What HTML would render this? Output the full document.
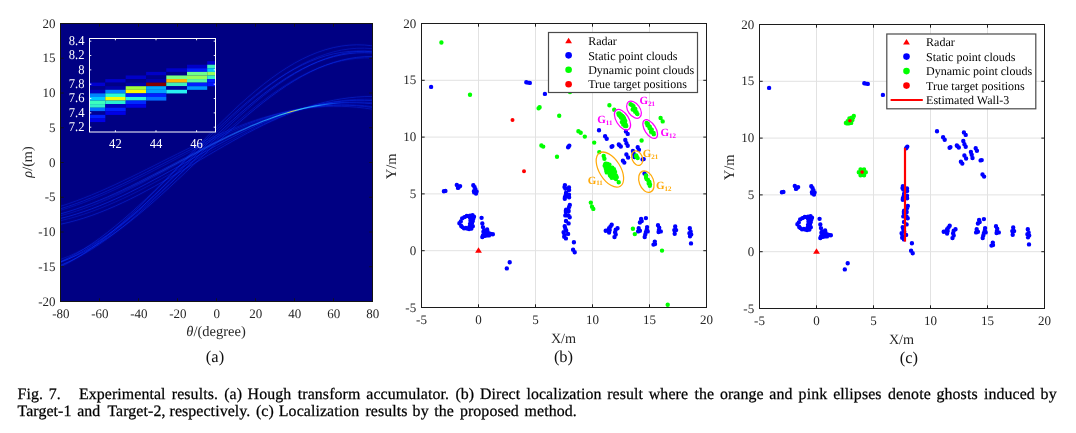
<!DOCTYPE html><html><head><meta charset="utf-8"><title>Fig. 7</title><style>
html,body{margin:0;padding:0;background:#fff;}body{width:1076px;height:433px;overflow:hidden;}
svg{display:block;will-change:transform}text{font-family:"Liberation Serif",serif;fill:#262626;text-rendering:geometricPrecision}
.t{font-size:13.0px}.w{fill:#fff;font-size:13.5px}.al{font-size:14.2px}.sub{font-size:16.5px;fill:#111}.cap{font-size:15.9px;fill:#000;letter-spacing:0.09px;stroke:#000;stroke-width:0.25px}.lg{font-size:12px;fill:#000}
.gp{font-weight:bold;font-size:11px;fill:#ff00ff}.go{font-weight:bold;font-size:11px;fill:#ffaa0a}.s{font-size:6.9px}
</style></head><body>
<svg width="1076" height="433" viewBox="0 0 1076 433">
<g id="pa">
<rect x="60" y="23" width="313" height="279" fill="#000083"/>
<clipPath id="ca"><rect x="60.5" y="23.5" width="312" height="278"/></clipPath>
<g clip-path="url(#ca)" fill="none" stroke-linecap="round">
<path d="M60.5 224.25 L68.3 222.47 L76.1 220.41 L83.9 218.07 L91.7 215.45 L99.5 212.57 L107.3 209.46 L115.1 206.11 L122.9 202.55 L130.7 198.8 L138.5 194.86 L146.3 190.77 L154.1 186.55 L161.9 182.2 L169.7 177.76 L177.5 173.25 L185.3 168.68 L193.1 164.09 L200.9 159.48 L208.7 154.89 L216.5 150.34 L224.3 145.84 L232.1 141.43 L239.9 137.12 L247.7 132.94 L255.5 128.89 L263.3 125.01 L271.1 121.32 L278.9 117.82 L286.7 114.55 L294.5 111.5 L302.3 108.71 L310.1 106.17 L317.9 103.91 L325.7 101.94 L333.5 100.26 L341.3 98.89 L349.1 97.82 L356.9 97.07 L364.7 96.64 L372.5 96.53" stroke="#0c38ff" stroke-opacity="0.045" stroke-width="3.2"/>
<path d="M60.5 224.25 L68.3 222.47 L76.1 220.41 L83.9 218.07 L91.7 215.45 L99.5 212.57 L107.3 209.46 L115.1 206.11 L122.9 202.55 L130.7 198.8 L138.5 194.86 L146.3 190.77 L154.1 186.55 L161.9 182.2 L169.7 177.76 L177.5 173.25 L185.3 168.68 L193.1 164.09 L200.9 159.48 L208.7 154.89 L216.5 150.34 L224.3 145.84 L232.1 141.43 L239.9 137.12 L247.7 132.94 L255.5 128.89 L263.3 125.01 L271.1 121.32 L278.9 117.82 L286.7 114.55 L294.5 111.5 L302.3 108.71 L310.1 106.17 L317.9 103.91 L325.7 101.94 L333.5 100.26 L341.3 98.89 L349.1 97.82 L356.9 97.07 L364.7 96.64 L372.5 96.53" stroke="#0c38ff" stroke-opacity="0.46" stroke-width="0.85"/>
<path d="M60.5 220.68 L68.3 218.78 L76.1 216.62 L83.9 214.19 L91.7 211.51 L99.5 208.59 L107.3 205.45 L115.1 202.09 L122.9 198.55 L130.7 194.82 L138.5 190.95 L146.3 186.93 L154.1 182.79 L161.9 178.55 L169.7 174.24 L177.5 169.87 L185.3 165.46 L193.1 161.04 L200.9 156.63 L208.7 152.24 L216.5 147.9 L224.3 143.64 L232.1 139.47 L239.9 135.41 L247.7 131.48 L255.5 127.7 L263.3 124.09 L271.1 120.67 L278.9 117.46 L286.7 114.46 L294.5 111.69 L302.3 109.18 L310.1 106.92 L317.9 104.94 L325.7 103.23 L333.5 101.82 L341.3 100.69 L349.1 99.87 L356.9 99.36 L364.7 99.15 L372.5 99.26" stroke="#0c38ff" stroke-opacity="0.045" stroke-width="3.2"/>
<path d="M60.5 220.68 L68.3 218.78 L76.1 216.62 L83.9 214.19 L91.7 211.51 L99.5 208.59 L107.3 205.45 L115.1 202.09 L122.9 198.55 L130.7 194.82 L138.5 190.95 L146.3 186.93 L154.1 182.79 L161.9 178.55 L169.7 174.24 L177.5 169.87 L185.3 165.46 L193.1 161.04 L200.9 156.63 L208.7 152.24 L216.5 147.9 L224.3 143.64 L232.1 139.47 L239.9 135.41 L247.7 131.48 L255.5 127.7 L263.3 124.09 L271.1 120.67 L278.9 117.46 L286.7 114.46 L294.5 111.69 L302.3 109.18 L310.1 106.92 L317.9 104.94 L325.7 103.23 L333.5 101.82 L341.3 100.69 L349.1 99.87 L356.9 99.36 L364.7 99.15 L372.5 99.26" stroke="#0c38ff" stroke-opacity="0.32" stroke-width="0.85"/>
<path d="M60.5 218.47 L68.3 216.44 L76.1 214.15 L83.9 211.6 L91.7 208.82 L99.5 205.81 L107.3 202.59 L115.1 199.17 L122.9 195.58 L130.7 191.82 L138.5 187.92 L146.3 183.9 L154.1 179.77 L161.9 175.56 L169.7 171.28 L177.5 166.97 L185.3 162.63 L193.1 158.29 L200.9 153.97 L208.7 149.69 L216.5 145.47 L224.3 141.34 L232.1 137.31 L239.9 133.4 L247.7 129.64 L255.5 126.03 L263.3 122.61 L271.1 119.37 L278.9 116.35 L286.7 113.55 L294.5 110.99 L302.3 108.68 L310.1 106.64 L317.9 104.86 L325.7 103.37 L333.5 102.16 L341.3 101.25 L349.1 100.64 L356.9 100.33 L364.7 100.32 L372.5 100.61" stroke="#0c38ff" stroke-opacity="0.045" stroke-width="3.2"/>
<path d="M60.5 218.47 L68.3 216.44 L76.1 214.15 L83.9 211.6 L91.7 208.82 L99.5 205.81 L107.3 202.59 L115.1 199.17 L122.9 195.58 L130.7 191.82 L138.5 187.92 L146.3 183.9 L154.1 179.77 L161.9 175.56 L169.7 171.28 L177.5 166.97 L185.3 162.63 L193.1 158.29 L200.9 153.97 L208.7 149.69 L216.5 145.47 L224.3 141.34 L232.1 137.31 L239.9 133.4 L247.7 129.64 L255.5 126.03 L263.3 122.61 L271.1 119.37 L278.9 116.35 L286.7 113.55 L294.5 110.99 L302.3 108.68 L310.1 106.64 L317.9 104.86 L325.7 103.37 L333.5 102.16 L341.3 101.25 L349.1 100.64 L356.9 100.33 L364.7 100.32 L372.5 100.61" stroke="#0c38ff" stroke-opacity="0.55" stroke-width="0.85"/>
<path d="M60.5 215.72 L68.3 213.58 L76.1 211.19 L83.9 208.57 L91.7 205.72 L99.5 202.66 L107.3 199.4 L115.1 195.97 L122.9 192.37 L130.7 188.63 L138.5 184.76 L146.3 180.78 L154.1 176.71 L161.9 172.58 L169.7 168.39 L177.5 164.17 L185.3 159.95 L193.1 155.74 L200.9 151.56 L208.7 147.44 L216.5 143.39 L224.3 139.43 L232.1 135.58 L239.9 131.87 L247.7 128.3 L255.5 124.91 L263.3 121.69 L271.1 118.67 L278.9 115.87 L286.7 113.29 L294.5 110.96 L302.3 108.87 L310.1 107.05 L317.9 105.5 L325.7 104.22 L333.5 103.23 L341.3 102.52 L349.1 102.11 L356.9 102 L364.7 102.17 L372.5 102.65" stroke="#0c38ff" stroke-opacity="0.045" stroke-width="3.2"/>
<path d="M60.5 215.72 L68.3 213.58 L76.1 211.19 L83.9 208.57 L91.7 205.72 L99.5 202.66 L107.3 199.4 L115.1 195.97 L122.9 192.37 L130.7 188.63 L138.5 184.76 L146.3 180.78 L154.1 176.71 L161.9 172.58 L169.7 168.39 L177.5 164.17 L185.3 159.95 L193.1 155.74 L200.9 151.56 L208.7 147.44 L216.5 143.39 L224.3 139.43 L232.1 135.58 L239.9 131.87 L247.7 128.3 L255.5 124.91 L263.3 121.69 L271.1 118.67 L278.9 115.87 L286.7 113.29 L294.5 110.96 L302.3 108.87 L310.1 107.05 L317.9 105.5 L325.7 104.22 L333.5 103.23 L341.3 102.52 L349.1 102.11 L356.9 102 L364.7 102.17 L372.5 102.65" stroke="#0c38ff" stroke-opacity="0.34" stroke-width="0.85"/>
<path d="M60.5 213.85 L68.3 211.59 L76.1 209.09 L83.9 206.37 L91.7 203.43 L99.5 200.29 L107.3 196.97 L115.1 193.48 L122.9 189.84 L130.7 186.07 L138.5 182.18 L146.3 178.2 L154.1 174.13 L161.9 170.02 L169.7 165.86 L177.5 161.69 L185.3 157.53 L193.1 153.38 L200.9 149.29 L208.7 145.25 L216.5 141.3 L224.3 137.46 L232.1 133.73 L239.9 130.15 L247.7 126.72 L255.5 123.47 L263.3 120.41 L271.1 117.55 L278.9 114.91 L286.7 112.51 L294.5 110.34 L302.3 108.44 L310.1 106.79 L317.9 105.42 L325.7 104.32 L333.5 103.51 L341.3 102.98 L349.1 102.75 L356.9 102.81 L364.7 103.15 L372.5 103.79" stroke="#0c38ff" stroke-opacity="0.045" stroke-width="3.2"/>
<path d="M60.5 213.85 L68.3 211.59 L76.1 209.09 L83.9 206.37 L91.7 203.43 L99.5 200.29 L107.3 196.97 L115.1 193.48 L122.9 189.84 L130.7 186.07 L138.5 182.18 L146.3 178.2 L154.1 174.13 L161.9 170.02 L169.7 165.86 L177.5 161.69 L185.3 157.53 L193.1 153.38 L200.9 149.29 L208.7 145.25 L216.5 141.3 L224.3 137.46 L232.1 133.73 L239.9 130.15 L247.7 126.72 L255.5 123.47 L263.3 120.41 L271.1 117.55 L278.9 114.91 L286.7 112.51 L294.5 110.34 L302.3 108.44 L310.1 106.79 L317.9 105.42 L325.7 104.32 L333.5 103.51 L341.3 102.98 L349.1 102.75 L356.9 102.81 L364.7 103.15 L372.5 103.79" stroke="#0c38ff" stroke-opacity="0.5" stroke-width="0.85"/>
<path d="M60.5 210.28 L68.3 207.9 L76.1 205.3 L83.9 202.49 L91.7 199.49 L99.5 196.31 L107.3 192.96 L115.1 189.47 L122.9 185.84 L130.7 182.1 L138.5 178.26 L146.3 174.35 L154.1 170.38 L161.9 166.37 L169.7 162.34 L177.5 158.31 L185.3 154.31 L193.1 150.34 L200.9 146.43 L208.7 142.6 L216.5 138.87 L224.3 135.25 L232.1 131.77 L239.9 128.43 L247.7 125.26 L255.5 122.28 L263.3 119.49 L271.1 116.9 L278.9 114.54 L286.7 112.42 L294.5 110.54 L302.3 108.91 L310.1 107.54 L317.9 106.44 L325.7 105.61 L333.5 105.06 L341.3 104.79 L349.1 104.8 L356.9 105.1 L364.7 105.67 L372.5 106.52" stroke="#0c38ff" stroke-opacity="0.045" stroke-width="3.2"/>
<path d="M60.5 210.28 L68.3 207.9 L76.1 205.3 L83.9 202.49 L91.7 199.49 L99.5 196.31 L107.3 192.96 L115.1 189.47 L122.9 185.84 L130.7 182.1 L138.5 178.26 L146.3 174.35 L154.1 170.38 L161.9 166.37 L169.7 162.34 L177.5 158.31 L185.3 154.31 L193.1 150.34 L200.9 146.43 L208.7 142.6 L216.5 138.87 L224.3 135.25 L232.1 131.77 L239.9 128.43 L247.7 125.26 L255.5 122.28 L263.3 119.49 L271.1 116.9 L278.9 114.54 L286.7 112.42 L294.5 110.54 L302.3 108.91 L310.1 107.54 L317.9 106.44 L325.7 105.61 L333.5 105.06 L341.3 104.79 L349.1 104.8 L356.9 105.1 L364.7 105.67 L372.5 106.52" stroke="#0c38ff" stroke-opacity="0.32" stroke-width="0.85"/>
<path d="M60.5 208.74 L68.3 206.27 L76.1 203.57 L83.9 200.68 L91.7 197.6 L99.5 194.36 L107.3 190.95 L115.1 187.41 L122.9 183.75 L130.7 179.98 L138.5 176.13 L146.3 172.21 L154.1 168.24 L161.9 164.25 L169.7 160.24 L177.5 156.25 L185.3 152.29 L193.1 148.38 L200.9 144.54 L208.7 140.78 L216.5 137.13 L224.3 133.61 L232.1 130.22 L239.9 126.99 L247.7 123.94 L255.5 121.07 L263.3 118.41 L271.1 115.96 L278.9 113.73 L286.7 111.75 L294.5 110.01 L302.3 108.53 L310.1 107.31 L317.9 106.35 L325.7 105.68 L333.5 105.28 L341.3 105.15 L349.1 105.31 L356.9 105.75 L364.7 106.46 L372.5 107.45" stroke="#0c38ff" stroke-opacity="0.045" stroke-width="3.2"/>
<path d="M60.5 208.74 L68.3 206.27 L76.1 203.57 L83.9 200.68 L91.7 197.6 L99.5 194.36 L107.3 190.95 L115.1 187.41 L122.9 183.75 L130.7 179.98 L138.5 176.13 L146.3 172.21 L154.1 168.24 L161.9 164.25 L169.7 160.24 L177.5 156.25 L185.3 152.29 L193.1 148.38 L200.9 144.54 L208.7 140.78 L216.5 137.13 L224.3 133.61 L232.1 130.22 L239.9 126.99 L247.7 123.94 L255.5 121.07 L263.3 118.41 L271.1 115.96 L278.9 113.73 L286.7 111.75 L294.5 110.01 L302.3 108.53 L310.1 107.31 L317.9 106.35 L325.7 105.68 L333.5 105.28 L341.3 105.15 L349.1 105.31 L356.9 105.75 L364.7 106.46 L372.5 107.45" stroke="#0c38ff" stroke-opacity="0.44" stroke-width="0.85"/>
<path d="M60.5 206.32 L68.3 203.75 L76.1 200.99 L83.9 198.03 L91.7 194.91 L99.5 191.62 L107.3 188.19 L115.1 184.64 L122.9 180.98 L130.7 177.23 L138.5 173.41 L146.3 169.54 L154.1 165.63 L161.9 161.7 L169.7 157.78 L177.5 153.88 L185.3 150.03 L193.1 146.23 L200.9 142.52 L208.7 138.9 L216.5 135.4 L224.3 132.02 L232.1 128.8 L239.9 125.74 L247.7 122.86 L255.5 120.18 L263.3 117.7 L271.1 115.43 L278.9 113.4 L286.7 111.61 L294.5 110.06 L302.3 108.77 L310.1 107.74 L317.9 106.98 L325.7 106.49 L333.5 106.27 L341.3 106.33 L349.1 106.66 L356.9 107.26 L364.7 108.13 L372.5 109.27" stroke="#0c38ff" stroke-opacity="0.045" stroke-width="3.2"/>
<path d="M60.5 206.32 L68.3 203.75 L76.1 200.99 L83.9 198.03 L91.7 194.91 L99.5 191.62 L107.3 188.19 L115.1 184.64 L122.9 180.98 L130.7 177.23 L138.5 173.41 L146.3 169.54 L154.1 165.63 L161.9 161.7 L169.7 157.78 L177.5 153.88 L185.3 150.03 L193.1 146.23 L200.9 142.52 L208.7 138.9 L216.5 135.4 L224.3 132.02 L232.1 128.8 L239.9 125.74 L247.7 122.86 L255.5 120.18 L263.3 117.7 L271.1 115.43 L278.9 113.4 L286.7 111.61 L294.5 110.06 L302.3 108.77 L310.1 107.74 L317.9 106.98 L325.7 106.49 L333.5 106.27 L341.3 106.33 L349.1 106.66 L356.9 107.26 L364.7 108.13 L372.5 109.27" stroke="#0c38ff" stroke-opacity="0.38" stroke-width="0.85"/>
<path d="M60.5 261.79 L68.3 258.95 L76.1 255.63 L83.9 251.87 L91.7 247.67 L99.5 243.05 L107.3 238.05 L115.1 232.67 L122.9 226.95 L130.7 220.92 L138.5 214.6 L146.3 208.03 L154.1 201.24 L161.9 194.26 L169.7 187.12 L177.5 179.87 L185.3 172.53 L193.1 165.14 L200.9 157.74 L208.7 150.36 L216.5 143.04 L224.3 135.82 L232.1 128.72 L239.9 121.79 L247.7 115.06 L255.5 108.56 L263.3 102.32 L271.1 96.38 L278.9 90.75 L286.7 85.48 L294.5 80.58 L302.3 76.08 L310.1 72.01 L317.9 68.37 L325.7 65.19 L333.5 62.49 L341.3 60.27 L349.1 58.55 L356.9 57.34 L364.7 56.64 L372.5 56.45" stroke="#0c38ff" stroke-opacity="0.045" stroke-width="3.2"/>
<path d="M60.5 261.79 L68.3 258.95 L76.1 255.63 L83.9 251.87 L91.7 247.67 L99.5 243.05 L107.3 238.05 L115.1 232.67 L122.9 226.95 L130.7 220.92 L138.5 214.6 L146.3 208.03 L154.1 201.24 L161.9 194.26 L169.7 187.12 L177.5 179.87 L185.3 172.53 L193.1 165.14 L200.9 157.74 L208.7 150.36 L216.5 143.04 L224.3 135.82 L232.1 128.72 L239.9 121.79 L247.7 115.06 L255.5 108.56 L263.3 102.32 L271.1 96.38 L278.9 90.75 L286.7 85.48 L294.5 80.58 L302.3 76.08 L310.1 72.01 L317.9 68.37 L325.7 65.19 L333.5 62.49 L341.3 60.27 L349.1 58.55 L356.9 57.34 L364.7 56.64 L372.5 56.45" stroke="#0c38ff" stroke-opacity="0.5" stroke-width="0.85"/>
<path d="M60.5 259.4 L68.3 256.4 L76.1 252.95 L83.9 249.05 L91.7 244.73 L99.5 240.01 L107.3 234.92 L115.1 229.47 L122.9 223.69 L130.7 217.62 L138.5 211.28 L146.3 204.7 L154.1 197.91 L161.9 190.95 L169.7 183.86 L177.5 176.66 L185.3 169.39 L193.1 162.08 L200.9 154.78 L208.7 147.52 L216.5 140.33 L224.3 133.25 L232.1 126.31 L239.9 119.54 L247.7 112.99 L255.5 106.68 L263.3 100.64 L271.1 94.9 L278.9 89.49 L286.7 84.43 L294.5 79.76 L302.3 75.49 L310.1 71.64 L317.9 68.23 L325.7 65.29 L333.5 62.82 L341.3 60.83 L349.1 59.34 L356.9 58.35 L364.7 57.87 L372.5 57.9" stroke="#0c38ff" stroke-opacity="0.045" stroke-width="3.2"/>
<path d="M60.5 259.4 L68.3 256.4 L76.1 252.95 L83.9 249.05 L91.7 244.73 L99.5 240.01 L107.3 234.92 L115.1 229.47 L122.9 223.69 L130.7 217.62 L138.5 211.28 L146.3 204.7 L154.1 197.91 L161.9 190.95 L169.7 183.86 L177.5 176.66 L185.3 169.39 L193.1 162.08 L200.9 154.78 L208.7 147.52 L216.5 140.33 L224.3 133.25 L232.1 126.31 L239.9 119.54 L247.7 112.99 L255.5 106.68 L263.3 100.64 L271.1 94.9 L278.9 89.49 L286.7 84.43 L294.5 79.76 L302.3 75.49 L310.1 71.64 L317.9 68.23 L325.7 65.29 L333.5 62.82 L341.3 60.83 L349.1 59.34 L356.9 58.35 L364.7 57.87 L372.5 57.9" stroke="#0c38ff" stroke-opacity="0.34" stroke-width="0.85"/>
<path d="M60.5 265.18 L68.3 261.92 L76.1 258.17 L83.9 253.95 L91.7 249.29 L99.5 244.2 L107.3 238.72 L115.1 232.87 L122.9 226.67 L130.7 220.16 L138.5 213.37 L146.3 206.33 L154.1 199.08 L161.9 191.65 L169.7 184.08 L177.5 176.4 L185.3 168.66 L193.1 160.88 L200.9 153.12 L208.7 145.4 L216.5 137.76 L224.3 130.24 L232.1 122.88 L239.9 115.71 L247.7 108.77 L255.5 102.1 L263.3 95.71 L271.1 89.66 L278.9 83.95 L286.7 78.63 L294.5 73.72 L302.3 69.24 L310.1 65.22 L317.9 61.67 L325.7 58.61 L333.5 56.05 L341.3 54.02 L349.1 52.51 L356.9 51.54 L364.7 51.11 L372.5 51.23" stroke="#0c38ff" stroke-opacity="0.045" stroke-width="3.2"/>
<path d="M60.5 265.18 L68.3 261.92 L76.1 258.17 L83.9 253.95 L91.7 249.29 L99.5 244.2 L107.3 238.72 L115.1 232.87 L122.9 226.67 L130.7 220.16 L138.5 213.37 L146.3 206.33 L154.1 199.08 L161.9 191.65 L169.7 184.08 L177.5 176.4 L185.3 168.66 L193.1 160.88 L200.9 153.12 L208.7 145.4 L216.5 137.76 L224.3 130.24 L232.1 122.88 L239.9 115.71 L247.7 108.77 L255.5 102.1 L263.3 95.71 L271.1 89.66 L278.9 83.95 L286.7 78.63 L294.5 73.72 L302.3 69.24 L310.1 65.22 L317.9 61.67 L325.7 58.61 L333.5 56.05 L341.3 54.02 L349.1 52.51 L356.9 51.54 L364.7 51.11 L372.5 51.23" stroke="#0c38ff" stroke-opacity="0.44" stroke-width="0.85"/>
<path d="M60.5 262.45 L68.3 259.04 L76.1 255.15 L83.9 250.81 L91.7 246.04 L99.5 240.86 L107.3 235.3 L115.1 229.39 L122.9 223.15 L130.7 216.62 L138.5 209.82 L146.3 202.79 L154.1 195.57 L161.9 188.18 L169.7 180.67 L177.5 173.07 L185.3 165.42 L193.1 157.76 L200.9 150.11 L208.7 142.53 L216.5 135.05 L224.3 127.7 L232.1 120.52 L239.9 113.54 L247.7 106.8 L255.5 100.33 L263.3 94.17 L271.1 88.34 L278.9 82.87 L286.7 77.79 L294.5 73.12 L302.3 68.89 L310.1 65.11 L317.9 61.81 L325.7 58.99 L333.5 56.68 L341.3 54.89 L349.1 53.62 L356.9 52.89 L364.7 52.68 L372.5 53.01" stroke="#0c38ff" stroke-opacity="0.045" stroke-width="3.2"/>
<path d="M60.5 262.45 L68.3 259.04 L76.1 255.15 L83.9 250.81 L91.7 246.04 L99.5 240.86 L107.3 235.3 L115.1 229.39 L122.9 223.15 L130.7 216.62 L138.5 209.82 L146.3 202.79 L154.1 195.57 L161.9 188.18 L169.7 180.67 L177.5 173.07 L185.3 165.42 L193.1 157.76 L200.9 150.11 L208.7 142.53 L216.5 135.05 L224.3 127.7 L232.1 120.52 L239.9 113.54 L247.7 106.8 L255.5 100.33 L263.3 94.17 L271.1 88.34 L278.9 82.87 L286.7 77.79 L294.5 73.12 L302.3 68.89 L310.1 65.11 L317.9 61.81 L325.7 58.99 L333.5 56.68 L341.3 54.89 L349.1 53.62 L356.9 52.89 L364.7 52.68 L372.5 53.01" stroke="#0c38ff" stroke-opacity="0.54" stroke-width="0.85"/>
<path d="M60.5 265.88 L68.3 262.22 L76.1 258.08 L83.9 253.47 L91.7 248.41 L99.5 242.94 L107.3 237.07 L115.1 230.84 L122.9 224.28 L130.7 217.42 L138.5 210.29 L146.3 202.93 L154.1 195.37 L161.9 187.65 L169.7 179.81 L177.5 171.88 L185.3 163.91 L193.1 155.93 L200.9 147.98 L208.7 140.1 L216.5 132.34 L224.3 124.72 L232.1 117.28 L239.9 110.06 L247.7 103.1 L255.5 96.43 L263.3 90.08 L271.1 84.09 L278.9 78.47 L286.7 73.27 L294.5 68.5 L302.3 64.18 L310.1 60.35 L317.9 57.01 L325.7 54.19 L333.5 51.9 L341.3 50.14 L349.1 48.94 L356.9 48.28 L364.7 48.18 L372.5 48.64" stroke="#0c38ff" stroke-opacity="0.045" stroke-width="3.2"/>
<path d="M60.5 265.88 L68.3 262.22 L76.1 258.08 L83.9 253.47 L91.7 248.41 L99.5 242.94 L107.3 237.07 L115.1 230.84 L122.9 224.28 L130.7 217.42 L138.5 210.29 L146.3 202.93 L154.1 195.37 L161.9 187.65 L169.7 179.81 L177.5 171.88 L185.3 163.91 L193.1 155.93 L200.9 147.98 L208.7 140.1 L216.5 132.34 L224.3 124.72 L232.1 117.28 L239.9 110.06 L247.7 103.1 L255.5 96.43 L263.3 90.08 L271.1 84.09 L278.9 78.47 L286.7 73.27 L294.5 68.5 L302.3 64.18 L310.1 60.35 L317.9 57.01 L325.7 54.19 L333.5 51.9 L341.3 50.14 L349.1 48.94 L356.9 48.28 L364.7 48.18 L372.5 48.64" stroke="#0c38ff" stroke-opacity="0.36" stroke-width="0.85"/>
<path d="M60.5 261.74 L68.3 257.96 L76.1 253.71 L83.9 249.02 L91.7 243.91 L99.5 238.4 L107.3 232.52 L115.1 226.3 L122.9 219.77 L130.7 212.96 L138.5 205.91 L146.3 198.64 L154.1 191.2 L161.9 183.62 L169.7 175.93 L177.5 168.18 L185.3 160.4 L193.1 152.63 L200.9 144.91 L208.7 137.28 L216.5 129.77 L224.3 122.41 L232.1 115.26 L239.9 108.33 L247.7 101.67 L255.5 95.3 L263.3 89.26 L271.1 83.58 L278.9 78.28 L286.7 73.39 L294.5 68.94 L302.3 64.94 L310.1 61.42 L317.9 58.39 L325.7 55.87 L333.5 53.86 L341.3 52.39 L349.1 51.45 L356.9 51.06 L364.7 51.2 L372.5 51.89" stroke="#0c38ff" stroke-opacity="0.045" stroke-width="3.2"/>
<path d="M60.5 261.74 L68.3 257.96 L76.1 253.71 L83.9 249.02 L91.7 243.91 L99.5 238.4 L107.3 232.52 L115.1 226.3 L122.9 219.77 L130.7 212.96 L138.5 205.91 L146.3 198.64 L154.1 191.2 L161.9 183.62 L169.7 175.93 L177.5 168.18 L185.3 160.4 L193.1 152.63 L200.9 144.91 L208.7 137.28 L216.5 129.77 L224.3 122.41 L232.1 115.26 L239.9 108.33 L247.7 101.67 L255.5 95.3 L263.3 89.26 L271.1 83.58 L278.9 78.28 L286.7 73.39 L294.5 68.94 L302.3 64.94 L310.1 61.42 L317.9 58.39 L325.7 55.87 L333.5 53.86 L341.3 52.39 L349.1 51.45 L356.9 51.06 L364.7 51.2 L372.5 51.89" stroke="#0c38ff" stroke-opacity="0.46" stroke-width="0.85"/>
<path d="M60.5 266.88 L68.3 262.83 L76.1 258.3 L83.9 253.29 L91.7 247.84 L99.5 241.98 L107.3 235.73 L115.1 229.13 L122.9 222.2 L130.7 214.97 L138.5 207.5 L146.3 199.8 L154.1 191.92 L161.9 183.9 L169.7 175.77 L177.5 167.58 L185.3 159.37 L193.1 151.17 L200.9 143.02 L208.7 134.97 L216.5 127.05 L224.3 119.31 L232.1 111.78 L239.9 104.49 L247.7 97.49 L255.5 90.8 L263.3 84.47 L271.1 78.51 L278.9 72.96 L286.7 67.85 L294.5 63.2 L302.3 59.03 L310.1 55.37 L317.9 52.23 L325.7 49.63 L333.5 47.57 L341.3 46.08 L349.1 45.15 L356.9 44.8 L364.7 45.02 L372.5 45.81" stroke="#0c38ff" stroke-opacity="0.045" stroke-width="3.2"/>
<path d="M60.5 266.88 L68.3 262.83 L76.1 258.3 L83.9 253.29 L91.7 247.84 L99.5 241.98 L107.3 235.73 L115.1 229.13 L122.9 222.2 L130.7 214.97 L138.5 207.5 L146.3 199.8 L154.1 191.92 L161.9 183.9 L169.7 175.77 L177.5 167.58 L185.3 159.37 L193.1 151.17 L200.9 143.02 L208.7 134.97 L216.5 127.05 L224.3 119.31 L232.1 111.78 L239.9 104.49 L247.7 97.49 L255.5 90.8 L263.3 84.47 L271.1 78.51 L278.9 72.96 L286.7 67.85 L294.5 63.2 L302.3 59.03 L310.1 55.37 L317.9 52.23 L325.7 49.63 L333.5 47.57 L341.3 46.08 L349.1 45.15 L356.9 44.8 L364.7 45.02 L372.5 45.81" stroke="#0c38ff" stroke-opacity="0.42" stroke-width="0.85"/>
</g>
<defs><linearGradient id="hg" gradientUnits="userSpaceOnUse" x1="90" y1="0" x2="345" y2="0"><stop offset="0" stop-color="#1040ff" stop-opacity="0"/><stop offset="0.25" stop-color="#1448ff" stop-opacity="0.45"/><stop offset="0.5" stop-color="#1a60ff" stop-opacity="0.65"/><stop offset="0.7" stop-color="#28a0ff" stop-opacity="0.85"/><stop offset="0.765" stop-color="#40d8e8" stop-opacity="0.9"/><stop offset="0.79" stop-color="#ffe030" stop-opacity="0.9"/><stop offset="0.82" stop-color="#40e0e0" stop-opacity="0.95"/><stop offset="0.9" stop-color="#20a0ff" stop-opacity="0.8"/><stop offset="1" stop-color="#0040ff" stop-opacity="0"/></linearGradient></defs>
<path d="M87.8 205.92 L93.65 203.69 L99.5 201.36 L105.35 198.91 L111.2 196.37 L117.05 193.73 L122.9 191 L128.75 188.2 L134.6 185.33 L140.45 182.4 L146.3 179.41 L152.15 176.37 L158 173.3 L163.85 170.19 L169.7 167.07 L175.55 163.93 L181.4 160.79 L187.25 157.66 L193.1 154.53 L198.95 151.43 L204.8 148.36 L210.65 145.33 L216.5 142.35 L222.35 139.42 L228.2 136.55 L234.05 133.75 L239.9 131.04 L245.75 128.41 L251.6 125.87 L257.45 123.43 L263.3 121.11 L269.15 118.89 L275 116.79 L280.85 114.82 L286.7 112.98 L292.55 111.28 L298.4 109.71 L304.25 108.29 L310.1 107.02 L315.95 105.9 L321.8 104.94 L327.65 104.13 L333.5 103.49 L339.35 103 L345.2 102.68" stroke="url(#hg)" stroke-width="1.1" fill="none"/>
<rect x="60.5" y="23.5" width="312" height="278" fill="none" stroke="#141414" stroke-width="1"/>
<path d="M60.5 301.5 v-3.2 M60.5 23.5 v3.2" stroke="#141414" stroke-width="0.9"/>
<text class="t" x="60.8" y="318.2" text-anchor="middle">-80</text>
<path d="M99.5 301.5 v-3.2 M99.5 23.5 v3.2" stroke="#141414" stroke-width="0.9"/>
<text class="t" x="99.8" y="318.2" text-anchor="middle">-60</text>
<path d="M138.5 301.5 v-3.2 M138.5 23.5 v3.2" stroke="#141414" stroke-width="0.9"/>
<text class="t" x="138.8" y="318.2" text-anchor="middle">-40</text>
<path d="M177.5 301.5 v-3.2 M177.5 23.5 v3.2" stroke="#141414" stroke-width="0.9"/>
<text class="t" x="177.8" y="318.2" text-anchor="middle">-20</text>
<path d="M216.5 301.5 v-3.2 M216.5 23.5 v3.2" stroke="#141414" stroke-width="0.9"/>
<text class="t" x="216.8" y="318.2" text-anchor="middle">0</text>
<path d="M255.5 301.5 v-3.2 M255.5 23.5 v3.2" stroke="#141414" stroke-width="0.9"/>
<text class="t" x="255.8" y="318.2" text-anchor="middle">20</text>
<path d="M294.5 301.5 v-3.2 M294.5 23.5 v3.2" stroke="#141414" stroke-width="0.9"/>
<text class="t" x="294.8" y="318.2" text-anchor="middle">40</text>
<path d="M333.5 301.5 v-3.2 M333.5 23.5 v3.2" stroke="#141414" stroke-width="0.9"/>
<text class="t" x="333.8" y="318.2" text-anchor="middle">60</text>
<path d="M372.5 301.5 v-3.2 M372.5 23.5 v3.2" stroke="#141414" stroke-width="0.9"/>
<text class="t" x="372.8" y="318.2" text-anchor="middle">80</text>
<path d="M60.5 301.5 h3.2 M372.5 301.5 h-3.2" stroke="#141414" stroke-width="0.9"/>
<text class="t" x="55.6" y="305.6" text-anchor="end">-20</text>
<path d="M60.5 266.75 h3.2 M372.5 266.75 h-3.2" stroke="#141414" stroke-width="0.9"/>
<text class="t" x="55.6" y="270.85" text-anchor="end">-15</text>
<path d="M60.5 232 h3.2 M372.5 232 h-3.2" stroke="#141414" stroke-width="0.9"/>
<text class="t" x="55.6" y="236.1" text-anchor="end">-10</text>
<path d="M60.5 197.25 h3.2 M372.5 197.25 h-3.2" stroke="#141414" stroke-width="0.9"/>
<text class="t" x="55.6" y="201.35" text-anchor="end">-5</text>
<path d="M60.5 162.5 h3.2 M372.5 162.5 h-3.2" stroke="#141414" stroke-width="0.9"/>
<text class="t" x="55.6" y="166.6" text-anchor="end">0</text>
<path d="M60.5 127.75 h3.2 M372.5 127.75 h-3.2" stroke="#141414" stroke-width="0.9"/>
<text class="t" x="55.6" y="131.85" text-anchor="end">5</text>
<path d="M60.5 93 h3.2 M372.5 93 h-3.2" stroke="#141414" stroke-width="0.9"/>
<text class="t" x="55.6" y="97.1" text-anchor="end">10</text>
<path d="M60.5 58.25 h3.2 M372.5 58.25 h-3.2" stroke="#141414" stroke-width="0.9"/>
<text class="t" x="55.6" y="62.35" text-anchor="end">15</text>
<path d="M60.5 23.5 h3.2 M372.5 23.5 h-3.2" stroke="#141414" stroke-width="0.9"/>
<text class="t" x="55.6" y="27.6" text-anchor="end">20</text>
<text class="al" style="font-size:14.5px" x="216.0" y="336.4" text-anchor="middle"><tspan font-style="italic">θ</tspan>/(degree)</text>
<text class="al" transform="translate(32.2,162) rotate(-90)" text-anchor="middle"><tspan font-style="italic">ρ</tspan>/(m)</text>
<text class="sub" x="215" y="361.9" text-anchor="middle">(a)</text>
<rect x="89.5" y="38.5" width="126.0" height="93.5" fill="#000083"/>
<rect x="89.5" y="82.63" width="15.8" height="3.63" fill="#0000d0"/>
<rect x="89.5" y="86.21" width="15.8" height="3.63" fill="#00008c"/>
<rect x="89.5" y="89.79" width="15.8" height="3.63" fill="#0000c0"/>
<rect x="89.5" y="93.37" width="15.8" height="3.63" fill="#0082ff"/>
<rect x="89.5" y="96.95" width="15.8" height="3.63" fill="#00c8ff"/>
<rect x="89.5" y="100.53" width="15.8" height="3.63" fill="#3cffbe"/>
<rect x="89.5" y="104.11" width="15.8" height="3.63" fill="#32f0c8"/>
<rect x="89.5" y="107.69" width="15.8" height="3.63" fill="#006eff"/>
<rect x="89.5" y="111.27" width="15.8" height="3.63" fill="#000096"/>
<rect x="89.5" y="114.85" width="15.8" height="3.63" fill="#001eff"/>
<rect x="89.5" y="118.43" width="15.8" height="3.63" fill="#0000e6"/>
<rect x="105.3" y="79.05" width="20.4" height="3.63" fill="#0000c8"/>
<rect x="105.3" y="82.63" width="20.4" height="3.63" fill="#000086"/>
<rect x="105.3" y="86.21" width="20.4" height="3.63" fill="#0000aa"/>
<rect x="105.3" y="89.79" width="20.4" height="3.63" fill="#0082ff"/>
<rect x="105.3" y="93.37" width="20.4" height="3.63" fill="#28ffd2"/>
<rect x="105.3" y="96.95" width="20.4" height="3.63" fill="#f0ff0a"/>
<rect x="105.3" y="100.53" width="20.4" height="3.63" fill="#28f0d2"/>
<rect x="105.3" y="104.11" width="20.4" height="3.63" fill="#0000be"/>
<rect x="105.3" y="107.69" width="20.4" height="3.63" fill="#001eff"/>
<rect x="105.3" y="111.27" width="20.4" height="3.63" fill="#0000e6"/>
<rect x="125.7" y="75.47" width="20.4" height="3.63" fill="#0000c8"/>
<rect x="125.7" y="79.05" width="20.4" height="3.63" fill="#000087"/>
<rect x="125.7" y="82.63" width="20.4" height="3.63" fill="#0000a5"/>
<rect x="125.7" y="86.21" width="20.4" height="3.63" fill="#a0ff3c"/>
<rect x="125.7" y="89.79" width="20.4" height="3.63" fill="#fffa00"/>
<rect x="125.7" y="93.37" width="20.4" height="3.63" fill="#001eff"/>
<rect x="125.7" y="96.95" width="20.4" height="3.63" fill="#28f0dc"/>
<rect x="125.7" y="100.53" width="20.4" height="3.63" fill="#0028ff"/>
<rect x="125.7" y="104.11" width="20.4" height="3.63" fill="#0000e6"/>
<rect x="146.1" y="71.89" width="20.2" height="3.63" fill="#0000c8"/>
<rect x="146.1" y="75.47" width="20.2" height="3.63" fill="#00008c"/>
<rect x="146.1" y="79.05" width="20.2" height="3.63" fill="#0000af"/>
<rect x="146.1" y="82.63" width="20.2" height="3.63" fill="#820000"/>
<rect x="146.1" y="86.21" width="20.2" height="3.63" fill="#00aaff"/>
<rect x="146.1" y="89.79" width="20.2" height="3.63" fill="#00a0ff"/>
<rect x="146.1" y="93.37" width="20.2" height="3.63" fill="#001eff"/>
<rect x="146.1" y="96.95" width="20.2" height="3.63" fill="#006eff"/>
<rect x="166.3" y="68.31" width="20.7" height="3.63" fill="#0000c8"/>
<rect x="166.3" y="71.89" width="20.7" height="3.63" fill="#000087"/>
<rect x="166.3" y="75.47" width="20.7" height="3.63" fill="#78ff82"/>
<rect x="166.3" y="79.05" width="20.7" height="3.63" fill="#ffb400"/>
<rect x="166.3" y="82.63" width="20.7" height="3.63" fill="#3cf0be"/>
<rect x="166.3" y="86.21" width="20.7" height="3.63" fill="#0000a0"/>
<rect x="166.3" y="89.79" width="20.7" height="3.63" fill="#28f0f0"/>
<rect x="187" y="64.73" width="20.2" height="3.63" fill="#0000c8"/>
<rect x="187" y="68.31" width="20.2" height="3.63" fill="#001eff"/>
<rect x="187" y="71.89" width="20.2" height="3.63" fill="#6eff8c"/>
<rect x="187" y="75.47" width="20.2" height="3.63" fill="#96ff5a"/>
<rect x="187" y="79.05" width="20.2" height="3.63" fill="#5afaa0"/>
<rect x="187" y="82.63" width="20.2" height="3.63" fill="#001eff"/>
<rect x="187" y="86.21" width="20.2" height="3.63" fill="#0096ff"/>
<rect x="207.2" y="61.15" width="8.3" height="3.63" fill="#0000d2"/>
<rect x="207.2" y="64.73" width="8.3" height="3.63" fill="#3cf0be"/>
<rect x="207.2" y="68.31" width="8.3" height="3.63" fill="#00c8ff"/>
<rect x="207.2" y="71.89" width="8.3" height="3.63" fill="#96ff5a"/>
<rect x="207.2" y="75.47" width="8.3" height="3.63" fill="#32f0c8"/>
<rect x="207.2" y="79.05" width="8.3" height="3.63" fill="#001eff"/>
<rect x="207.2" y="82.63" width="8.3" height="3.63" fill="#0014ff"/>
<rect x="89.5" y="38.5" width="126.0" height="93.5" fill="none" stroke="#fff" stroke-width="1"/>
<text class="w" transform="translate(84.5 131.1) scale(0.93 1)" text-anchor="end">7.2</text>
<text class="w" transform="translate(84.5 116.77) scale(0.93 1)" text-anchor="end">7.4</text>
<text class="w" transform="translate(84.5 102.43) scale(0.93 1)" text-anchor="end">7.6</text>
<text class="w" transform="translate(84.5 88.1) scale(0.93 1)" text-anchor="end">7.8</text>
<text class="w" transform="translate(84.5 73.77) scale(0.93 1)" text-anchor="end">8</text>
<text class="w" transform="translate(84.5 59.43) scale(0.93 1)" text-anchor="end">8.2</text>
<text class="w" transform="translate(84.5 45.1) scale(0.93 1)" text-anchor="end">8.4</text>
<text class="w" transform="translate(115.4 148.4) scale(0.93 1)" text-anchor="middle">42</text>
<text class="w" transform="translate(156 148.4) scale(0.93 1)" text-anchor="middle">44</text>
<text class="w" transform="translate(196.6 148.4) scale(0.93 1)" text-anchor="middle">46</text>
<path d="M89.5 127.2 h1.8 M215.5 127.2 h-1.8 M89.5 112.87 h1.8 M215.5 112.87 h-1.8 M89.5 98.53 h1.8 M215.5 98.53 h-1.8 M89.5 84.2 h1.8 M215.5 84.2 h-1.8 M89.5 69.87 h1.8 M215.5 69.87 h-1.8 M89.5 55.53 h1.8 M215.5 55.53 h-1.8 M89.5 41.2 h1.8 M215.5 41.2 h-1.8 M115.4 132.0 v-1.8 M115.4 38.5 v1.8 M156 132.0 v-1.8 M156 38.5 v1.8 M196.6 132.0 v-1.8 M196.6 38.5 v1.8" stroke="#fff" stroke-width="0.9" fill="none"/>
</g>
<g id="pb">
<path d="M478.5 23.5 V307.5 M421.5 250.7 H706.5 M535.5 23.5 V307.5 M421.5 193.9 H706.5 M592.5 23.5 V307.5 M421.5 137.1 H706.5 M649.5 23.5 V307.5 M421.5 80.3 H706.5" stroke="#e2e2e2" stroke-width="1" fill="none"/>
<path d="M431.1 86.9h.01M526.3 82.3h.01M527.9 82.6h.01M529.8 82.9h.01M544.9 93.9h.01M443.9 191.2h.01M445.4 190.9h.01M456.8 184.9h.01M460.1 186.1h.01M458 187.9h.01M458.9 187h.01M473.3 185.2h.01M474.5 187h.01M475.4 189.1h.01M473.9 191.2h.01M476.6 191.5h.01M476 193.6h.01M474.2 192.4h.01M466.79 216.01h.01M470.02 215.74h.01M472.52 215.09h.01M474 216.75h.01M473.26 218.79h.01M472.79 221.1h.01M471.87 223.41h.01M472.79 226.18h.01M471.41 228.49h.01M470.02 217.86h.01M470.48 220.64h.01M470.02 223.87h.01M469.56 226.64h.01M467.25 228.49h.01M469.1 228.95h.01M465.86 227.84h.01M462.17 218.33h.01M459.39 223.22h.01M461.24 226h.01M462.35 227.11h.01M464.01 228.21h.01M460.78 221.56h.01M464.48 217.12h.01M481.57 217.86h.01M482.31 223.41h.01M482.96 227.11h.01M483.89 230.34h.01M487.12 229.42h.01M487.58 231.73h.01M485.27 234.5h.01M488.97 233.57h.01M490.82 234.04h.01M492.85 234.31h.01M484.35 233.11h.01M482.96 235.42h.01M482.31 237.09h.01M486.2 231.73h.01M484.81 235.89h.01M487.12 235.42h.01M488.97 235.42h.01M483.42 231.73h.01M483.89 234.5h.01M568.7 146.6h.01M569.3 145.6h.01M568.1 147.3h.01M564.9 185.1h.01M564.5 187.1h.01M565.3 188.5h.01M569 187.5h.01M569.1 189.9h.01M566.1 192.7h.01M569 194.8h.01M569.1 197.2h.01M564.9 197.2h.01M564.8 198.8h.01M565.7 195.2h.01M569.8 204.9h.01M569.1 206.9h.01M566.1 209.7h.01M568.6 211.3h.01M565.9 212.1h.01M565.9 210.7h.01M568.6 210.7h.01M565.3 215.4h.01M569.7 217.3h.01M568.6 215.8h.01M568.6 223.4h.01M564.7 226.2h.01M565.3 228.4h.01M563.6 232.3h.01M564.4 235h.01M565.9 238.4h.01M568.1 233.9h.01M564.2 236.7h.01M566 221h.01M566.2 230.5h.01M573.9 242.2h.01M573.1 249.8h.01M574.7 252.2h.01M599 130.3h.01M605.1 136.3h.01M606.7 138.7h.01M625.9 131.4h.01M627.7 133.9h.01M625.3 140h.01M626.4 143.2h.01M627.7 145.7h.01M612.4 146.1h.01M611.6 146.8h.01M618.8 144.5h.01M620.8 146.5h.01M619.5 145.3h.01M637.7 147.3h.01M638.9 149.7h.01M632.9 151h.01M633.7 153.7h.01M634.5 157h.01M626.4 154.5h.01M628.1 157.5h.01M622.9 160.7h.01M624.3 162.6h.01M643.7 159.1h.01M642.6 159.4h.01M644.5 173.5h.01M646.1 175.6h.01M611.7 224.7h.01M610.5 226.5h.01M609.1 228.3h.01M605.7 230.7h.01M607.6 230.5h.01M609.1 232.6h.01M609.7 230.1h.01M617.5 228.3h.01M615.7 229.8h.01M615.1 232.2h.01M615.7 234.4h.01M614.5 237h.01M645.9 218.1h.01M641.1 218.9h.01M641.7 221.1h.01M639.9 222.5h.01M638.7 228.3h.01M638.1 231.4h.01M639.9 230.8h.01M647.1 227.1h.01M646.8 229.5h.01M645.9 232h.01M647.7 231.4h.01M645.3 234.4h.01M644.7 237h.01M658 225.3h.01M659.2 227.7h.01M658.9 230.1h.01M660.8 231.4h.01M658.6 232h.01M654.8 241.6h.01M653.5 244.6h.01M655 244h.01M675.2 226.5h.01M674.3 230.1h.01M676.1 230.1h.01M674.7 233.8h.01M689.8 228.3h.01M690.6 231.4h.01M689.4 233.2h.01M691.2 234.4h.01M690 236.2h.01M691 243.4h.01M509.7 262.3h.01M506.8 268.4h.01" stroke="#0000ff" stroke-width="4.4" stroke-linecap="round" fill="none"/>
<path d="M441.4 42.5h.01M470 94.7h.01M538.6 108.2h.01M539.6 107.2h.01M559.2 115.8h.01M578.4 131.2h.01M580.7 132.8h.01M584.8 136.6h.01M594.2 142.6h.01M541.4 145.5h.01M543.2 146.6h.01M557 156.7h.01M599.3 152.1h.01M570 92h.01M660.6 118h.01M662.7 121.4h.01M609.4 105.2h.01M614.2 109.7h.01M641.6 140.5h.01M590.8 202.6h.01M592 206.7h.01M593.3 208.9h.01M632.9 228.8h.01M634.8 234.1h.01M662 250.6h.01M667.7 304.7h.01M603.7 156h.01M604.4 158.8h.01M618.7 182.3h.01M618.33 113.34h.01M619.36 113.54h.01M618.69 114.8h.01M620.78 114.33h.01M619.72 115.84h.01M620.72 116.05h.01M622.36 115.87h.01M620.94 117.6h.01M623.33 116.95h.01M622.02 118.61h.01M624.01 118.21h.01M624.29 118.88h.01M623.2 120.4h.01M621.85 122.09h.01M625.19 120.84h.01M625.11 121.74h.01M623.9 123.33h.01M623.21 124.61h.01M624.9 124.39h.01M625.78 124.68h.01M625 126.01h.01M626.27 126.06h.01M630.56 104.29h.01M631.56 104.92h.01M632.66 105.47h.01M633.5 106.22h.01M633.63 107.46h.01M632.71 109.44h.01M635.3 108.95h.01M634.69 110.71h.01M635.18 111.7h.01M636.5 112.11h.01M636.73 113.28h.01M637.44 114.11h.01M646.61 123.06h.01M647.77 123.74h.01M647.49 125.35h.01M648.76 125.96h.01M649.76 126.74h.01M649.62 128.26h.01M650.67 129.01h.01M651.76 129.73h.01M651.04 131.63h.01M652.02 132.42h.01M653.59 132.84h.01M653.79 134.14h.01M605.56 163.67h.01M605.1 164.33h.01M605.35 164.52h.01M606.64 164h.01M604.66 165.69h.01M607.74 163.96h.01M606.85 164.91h.01M605.63 166.09h.01M608.4 164.57h.01M607.08 165.82h.01M609.42 164.59h.01M606.5 166.91h.01M606.14 167.51h.01M607.29 167.08h.01M605.77 168.46h.01M609.06 166.6h.01M607.04 168.31h.01M607.78 168.16h.01M608.02 168.35h.01M608.93 168.09h.01M606.72 169.93h.01M606.2 170.63h.01M609.31 168.89h.01M608.26 169.95h.01M612.31 167.58h.01M608.33 170.61h.01M608.84 170.62h.01M606.73 172.39h.01M608.01 171.88h.01M611.72 169.73h.01M611.21 170.43h.01M609.5 171.93h.01M613.95 169.29h.01M611.2 171.49h.01M613.3 170.43h.01M613.8 170.45h.01M614.33 170.44h.01M609.85 173.81h.01M614.17 171.25h.01M613.55 172.02h.01M612.78 172.89h.01M609.9 175.18h.01M615.04 172.07h.01M612.89 173.87h.01M612.44 174.53h.01M610.61 176.12h.01M611.19 176.08h.01M611.13 176.47h.01M614.65 174.45h.01M614.03 175.22h.01M614.48 175.27h.01M611.88 177.37h.01M611.74 177.82h.01M615.9 175.36h.01M615.88 175.73h.01M615.72 176.19h.01M615.81 176.48h.01M614.92 177.43h.01M614.71 177.93h.01M615.96 177.44h.01M616.76 177.26h.01M615.71 178.32h.01M615.9 178.54h.01M615.84 178.93h.01M636.15 155.5h.01M636.11 156.22h.01M636.72 156.56h.01M636.79 157.21h.01M637.03 157.76h.01M637.65 158.1h.01M645.98 175.34h.01M646.01 176.65h.01M646.13 177.93h.01M646.63 179.08h.01M647.93 179.93h.01M648.34 181.1h.01M649.38 182.05h.01M648.71 183.62h.01M650.01 184.47h.01M649.82 185.86h.01" stroke="#00ff00" stroke-width="4.4" stroke-linecap="round" fill="none"/>
<path d="M512.5 120h.01M524 171.2h.01" stroke="#ff0000" stroke-width="4" stroke-linecap="round" fill="none"/>
<path d="M478.5 247.2 l3.4 5.6 h-6.8z" fill="#ff0000"/>
<ellipse cx="622.5" cy="119.7" rx="11.6" ry="6.2" transform="rotate(58 622.5 119.7)" fill="none" stroke="#ff00ff" stroke-width="1.25"/>
<ellipse cx="634" cy="109.7" rx="9.6" ry="6" transform="rotate(55 634 109.7)" fill="none" stroke="#ff00ff" stroke-width="1.25"/>
<ellipse cx="650.2" cy="129.1" rx="10.6" ry="5.4" transform="rotate(57 650.2 129.1)" fill="none" stroke="#ff00ff" stroke-width="1.25"/>
<ellipse cx="609.9" cy="169.6" rx="19.6" ry="10.6" transform="rotate(58 609.9 169.6)" fill="none" stroke="#ffaa0a" stroke-width="1.25"/>
<ellipse cx="637.2" cy="158.1" rx="7.6" ry="5.2" transform="rotate(68 637.2 158.1)" fill="none" stroke="#ffaa0a" stroke-width="1.25"/>
<ellipse cx="646.4" cy="181.6" rx="11.2" ry="7.2" transform="rotate(70 646.4 181.6)" fill="none" stroke="#ffaa0a" stroke-width="1.25"/>
<text class="gp" x="597.3" y="123.2">G<tspan class="s" dy="1.6">11</tspan></text>
<text class="gp" x="639.6" y="103.9">G<tspan class="s" dy="1.6">21</tspan></text>
<text class="gp" x="660.4" y="136.4">G<tspan class="s" dy="1.6">12</tspan></text>
<text class="go" x="587.7" y="183.5">G<tspan class="s" dy="1.6">11</tspan></text>
<text class="go" x="642.8" y="157.2">G<tspan class="s" dy="1.6">21</tspan></text>
<text class="go" x="655.9" y="189">G<tspan class="s" dy="1.6">12</tspan></text>
<rect x="548.5" y="32.5" width="149" height="60" fill="#fff" stroke="#4a4a4a" stroke-width="1.2"/>
<path d="M568.6 37.7 l3.4 5.6 h-6.8z" fill="#ff0000"/>
<text class="lg" x="588.2" y="45.1">Radar</text>
<circle cx="568.6" cy="55.35" r="3.3" fill="#0000ff"/>
<text class="lg" x="588.2" y="59.55">Static point clouds</text>
<circle cx="568.6" cy="69.8" r="3.3" fill="#00ff00"/>
<text class="lg" x="588.2" y="74">Dynamic point clouds</text>
<circle cx="568.6" cy="84.25" r="3.3" fill="#ff0000"/>
<text class="lg" x="588.2" y="88.45">True target positions</text>
<rect x="421.5" y="23.5" width="285" height="284" fill="none" stroke="#1c1c1c" stroke-width="1"/>
<text class="t" x="421.5" y="324.1" text-anchor="middle">-5</text>
<text class="t" x="416.2" y="311.5" text-anchor="end">-5</text>
<text class="t" x="478.5" y="324.1" text-anchor="middle">0</text>
<text class="t" x="416.2" y="254.7" text-anchor="end">0</text>
<text class="t" x="535.5" y="324.1" text-anchor="middle">5</text>
<text class="t" x="416.2" y="197.9" text-anchor="end">5</text>
<text class="t" x="592.5" y="324.1" text-anchor="middle">10</text>
<text class="t" x="416.2" y="141.1" text-anchor="end">10</text>
<text class="t" x="649.5" y="324.1" text-anchor="middle">15</text>
<text class="t" x="416.2" y="84.3" text-anchor="end">15</text>
<text class="t" x="706.5" y="324.1" text-anchor="middle">20</text>
<text class="t" x="416.2" y="27.5" text-anchor="end">20</text>
<path d="M421.5 307.5 v-3.2 M421.5 23.5 v3.2 M421.5 307.5 h3.2 M706.5 307.5 h-3.2 M478.5 307.5 v-3.2 M478.5 23.5 v3.2 M421.5 250.7 h3.2 M706.5 250.7 h-3.2 M535.5 307.5 v-3.2 M535.5 23.5 v3.2 M421.5 193.9 h3.2 M706.5 193.9 h-3.2 M592.5 307.5 v-3.2 M592.5 23.5 v3.2 M421.5 137.1 h3.2 M706.5 137.1 h-3.2 M649.5 307.5 v-3.2 M649.5 23.5 v3.2 M421.5 80.3 h3.2 M706.5 80.3 h-3.2 M706.5 307.5 v-3.2 M706.5 23.5 v3.2 M421.5 23.5 h3.2 M706.5 23.5 h-3.2" stroke="#1c1c1c" stroke-width="1" fill="none"/>
<text class="al" x="563.5" y="343.2" text-anchor="middle">X/m</text>
<text class="al" style="font-size:14.6px" transform="translate(395.8,166.3) rotate(-90)" text-anchor="middle">Y/m</text>
<text class="sub" x="563.5" y="361.9" text-anchor="middle">(b)</text>
</g>
<g id="pc">
<path d="M816.5 24.5 V308.5 M759.5 251.7 H1044.5 M873.5 24.5 V308.5 M759.5 194.9 H1044.5 M930.5 24.5 V308.5 M759.5 138.1 H1044.5 M987.5 24.5 V308.5 M759.5 81.3 H1044.5" stroke="#e2e2e2" stroke-width="1" fill="none"/>
<path d="M769.1 87.9h.01M864.3 83.3h.01M865.9 83.6h.01M867.8 83.9h.01M882.9 94.9h.01M781.9 192.2h.01M783.4 191.9h.01M794.8 185.9h.01M798.1 187.1h.01M796 188.9h.01M796.9 188h.01M811.3 186.2h.01M812.5 188h.01M813.4 190.1h.01M811.9 192.2h.01M814.6 192.5h.01M814 194.6h.01M812.2 193.4h.01M804.79 217.01h.01M808.02 216.74h.01M810.52 216.09h.01M812 217.75h.01M811.26 219.79h.01M810.79 222.1h.01M809.87 224.41h.01M810.79 227.18h.01M809.41 229.49h.01M808.02 218.86h.01M808.48 221.64h.01M808.02 224.87h.01M807.56 227.64h.01M805.25 229.49h.01M807.1 229.95h.01M803.86 228.84h.01M800.17 219.33h.01M797.39 224.22h.01M799.24 227h.01M800.35 228.11h.01M802.01 229.21h.01M798.78 222.56h.01M802.48 218.12h.01M819.57 218.86h.01M820.31 224.41h.01M820.96 228.11h.01M821.89 231.34h.01M825.12 230.42h.01M825.58 232.73h.01M823.27 235.5h.01M826.97 234.57h.01M828.82 235.04h.01M830.85 235.31h.01M822.35 234.11h.01M820.96 236.42h.01M820.31 238.09h.01M824.2 232.73h.01M822.81 236.89h.01M825.12 236.42h.01M826.97 236.42h.01M821.42 232.73h.01M821.89 235.5h.01M906.7 147.6h.01M907.3 146.6h.01M906.1 148.3h.01M902.9 186.1h.01M902.5 188.1h.01M903.3 189.5h.01M907 188.5h.01M907.1 190.9h.01M904.1 193.7h.01M907 195.8h.01M907.1 198.2h.01M902.9 198.2h.01M902.8 199.8h.01M903.7 196.2h.01M907.8 205.9h.01M907.1 207.9h.01M904.1 210.7h.01M906.6 212.3h.01M903.9 213.1h.01M903.9 211.7h.01M906.6 211.7h.01M903.3 216.4h.01M907.7 218.3h.01M906.6 216.8h.01M906.6 224.4h.01M902.7 227.2h.01M903.3 229.4h.01M901.6 233.3h.01M902.4 236h.01M903.9 239.4h.01M906.1 234.9h.01M902.2 237.7h.01M904 222h.01M904.2 231.5h.01M911.9 243.2h.01M911.1 250.8h.01M912.7 253.2h.01M937 131.3h.01M943.1 137.3h.01M944.7 139.7h.01M963.9 132.4h.01M965.7 134.9h.01M963.3 141h.01M964.4 144.2h.01M965.7 146.7h.01M950.4 147.1h.01M949.6 147.8h.01M956.8 145.5h.01M958.8 147.5h.01M957.5 146.3h.01M975.7 148.3h.01M976.9 150.7h.01M970.9 152h.01M971.7 154.7h.01M972.5 158h.01M964.4 155.5h.01M966.1 158.5h.01M960.9 161.7h.01M962.3 163.6h.01M981.7 160.1h.01M980.6 160.4h.01M982.5 174.5h.01M984.1 176.6h.01M949.7 225.7h.01M948.5 227.5h.01M947.1 229.3h.01M943.7 231.7h.01M945.6 231.5h.01M947.1 233.6h.01M947.7 231.1h.01M955.5 229.3h.01M953.7 230.8h.01M953.1 233.2h.01M953.7 235.4h.01M952.5 238h.01M983.9 219.1h.01M979.1 219.9h.01M979.7 222.1h.01M977.9 223.5h.01M976.7 229.3h.01M976.1 232.4h.01M977.9 231.8h.01M985.1 228.1h.01M984.8 230.5h.01M983.9 233h.01M985.7 232.4h.01M983.3 235.4h.01M982.7 238h.01M996 226.3h.01M997.2 228.7h.01M996.9 231.1h.01M998.8 232.4h.01M996.6 233h.01M992.8 242.6h.01M991.5 245.6h.01M993 245h.01M1013.2 227.5h.01M1012.3 231.1h.01M1014.1 231.1h.01M1012.7 234.8h.01M1027.8 229.3h.01M1028.6 232.4h.01M1027.4 234.2h.01M1029.2 235.4h.01M1028 237.2h.01M1029 244.4h.01M847.7 263.3h.01M844.8 269.4h.01" stroke="#0000ff" stroke-width="4.4" stroke-linecap="round" fill="none"/>
<path d="M845.9 122.9h.01M847.6 121.2h.01M849.4 118.5h.01M851.7 117.6h.01M853.8 115.9h.01M851.2 122.9h.01M848.6 123.4h.01M852.4 119.9h.01M849.9 120.8h.01M846.5 123.2h.01M853.2 117.2h.01M865.8 172.3h.01M864.05 175.24h.01M860.55 175.24h.01M858.8 172.3h.01M860.55 169.36h.01M864.05 169.36h.01M862.3 172.3h.01M861 171h.01M863.5 173.5h.01M861 173.5h.01M863.5 171h.01" stroke="#00ff00" stroke-width="4.4" stroke-linecap="round" fill="none"/>
<path d="M849.9 120.8h.01M862.1 172.1h.01" stroke="#ff0000" stroke-width="3.6" stroke-linecap="round" fill="none"/>
<path d="M905 147.8 V241.6" stroke="#ff0000" stroke-width="2.2" fill="none"/>
<path d="M816.5 248.2 l3.4 5.6 h-6.8z" fill="#ff0000"/>
<rect x="886.8" y="34" width="149" height="74.8" fill="#fff" stroke="#4a4a4a" stroke-width="1.2"/>
<path d="M906.5 38.9 l3.4 5.6 h-6.8z" fill="#ff0000"/>
<text class="lg" x="926.1" y="46.3">Radar</text>
<circle cx="906.5" cy="56.6" r="3.3" fill="#0000ff"/>
<text class="lg" x="926.1" y="60.8">Static point clouds</text>
<circle cx="906.5" cy="71.1" r="3.3" fill="#00ff00"/>
<text class="lg" x="926.1" y="75.3">Dynamic point clouds</text>
<circle cx="906.5" cy="85.6" r="3.3" fill="#ff0000"/>
<text class="lg" x="926.1" y="89.8">True target positions</text>
<path d="M890.6 100.1 H922.8" stroke="#ff0000" stroke-width="2"/>
<text class="lg" x="926.1" y="104.3">Estimated Wall-3</text>
<rect x="759.5" y="24.5" width="285" height="284" fill="none" stroke="#1c1c1c" stroke-width="1"/>
<text class="t" x="759.5" y="325.1" text-anchor="middle">-5</text>
<text class="t" x="754.2" y="312.5" text-anchor="end">-5</text>
<text class="t" x="816.5" y="325.1" text-anchor="middle">0</text>
<text class="t" x="754.2" y="255.7" text-anchor="end">0</text>
<text class="t" x="873.5" y="325.1" text-anchor="middle">5</text>
<text class="t" x="754.2" y="198.9" text-anchor="end">5</text>
<text class="t" x="930.5" y="325.1" text-anchor="middle">10</text>
<text class="t" x="754.2" y="142.1" text-anchor="end">10</text>
<text class="t" x="987.5" y="325.1" text-anchor="middle">15</text>
<text class="t" x="754.2" y="85.3" text-anchor="end">15</text>
<text class="t" x="1044.5" y="325.1" text-anchor="middle">20</text>
<text class="t" x="754.2" y="28.5" text-anchor="end">20</text>
<path d="M759.5 308.5 v-3.2 M759.5 24.5 v3.2 M759.5 308.5 h3.2 M1044.5 308.5 h-3.2 M816.5 308.5 v-3.2 M816.5 24.5 v3.2 M759.5 251.7 h3.2 M1044.5 251.7 h-3.2 M873.5 308.5 v-3.2 M873.5 24.5 v3.2 M759.5 194.9 h3.2 M1044.5 194.9 h-3.2 M930.5 308.5 v-3.2 M930.5 24.5 v3.2 M759.5 138.1 h3.2 M1044.5 138.1 h-3.2 M987.5 308.5 v-3.2 M987.5 24.5 v3.2 M759.5 81.3 h3.2 M1044.5 81.3 h-3.2 M1044.5 308.5 v-3.2 M1044.5 24.5 v3.2 M759.5 24.5 h3.2 M1044.5 24.5 h-3.2" stroke="#1c1c1c" stroke-width="1" fill="none"/>
<text class="al" x="901.5" y="344.2" text-anchor="middle">X/m</text>
<text class="al" style="font-size:14.6px" transform="translate(733.8,167.3) rotate(-90)" text-anchor="middle">Y/m</text>
<text class="sub" x="908.9" y="362.9" text-anchor="middle">(c)</text>
</g>
<text class="cap" y="398.8"><tspan x="17.5">Fig.</tspan><tspan x="48.8">7.</tspan><tspan x="78.9">Experimental</tspan><tspan x="171.8">results.</tspan><tspan x="224.2">(a)</tspan><tspan x="247.6">Hough</tspan><tspan x="297.8">transform</tspan><tspan x="366.3">accumulator.</tspan><tspan x="455.4">(b)</tspan><tspan x="480">Direct</tspan><tspan x="526.4">localization</tspan><tspan x="607.2">result</tspan><tspan x="648.8">where</tspan><tspan x="694.4">the</tspan><tspan x="719.9">orange</tspan><tspan x="769.3">and</tspan><tspan x="798.6">pink</tspan><tspan x="833.2">ellipses</tspan><tspan x="887.9">denote</tspan><tspan x="936.5">ghosts</tspan><tspan x="983.9">induced</tspan><tspan x="1040.6">by</tspan></text>
<text class="cap" y="416.4"><tspan x="17.5">Target-1</tspan><tspan x="77.2">and</tspan><tspan x="107.4">Target-2,</tspan><tspan x="169.5">respectively.</tspan><tspan x="255.9">(c)</tspan><tspan x="278.8">Localization</tspan><tspan x="365.4">results</tspan><tspan x="412.6">by</tspan><tspan x="434.2">the</tspan><tspan x="459.9">proposed</tspan><tspan x="524.6">method.</tspan></text>
</svg></body></html>
